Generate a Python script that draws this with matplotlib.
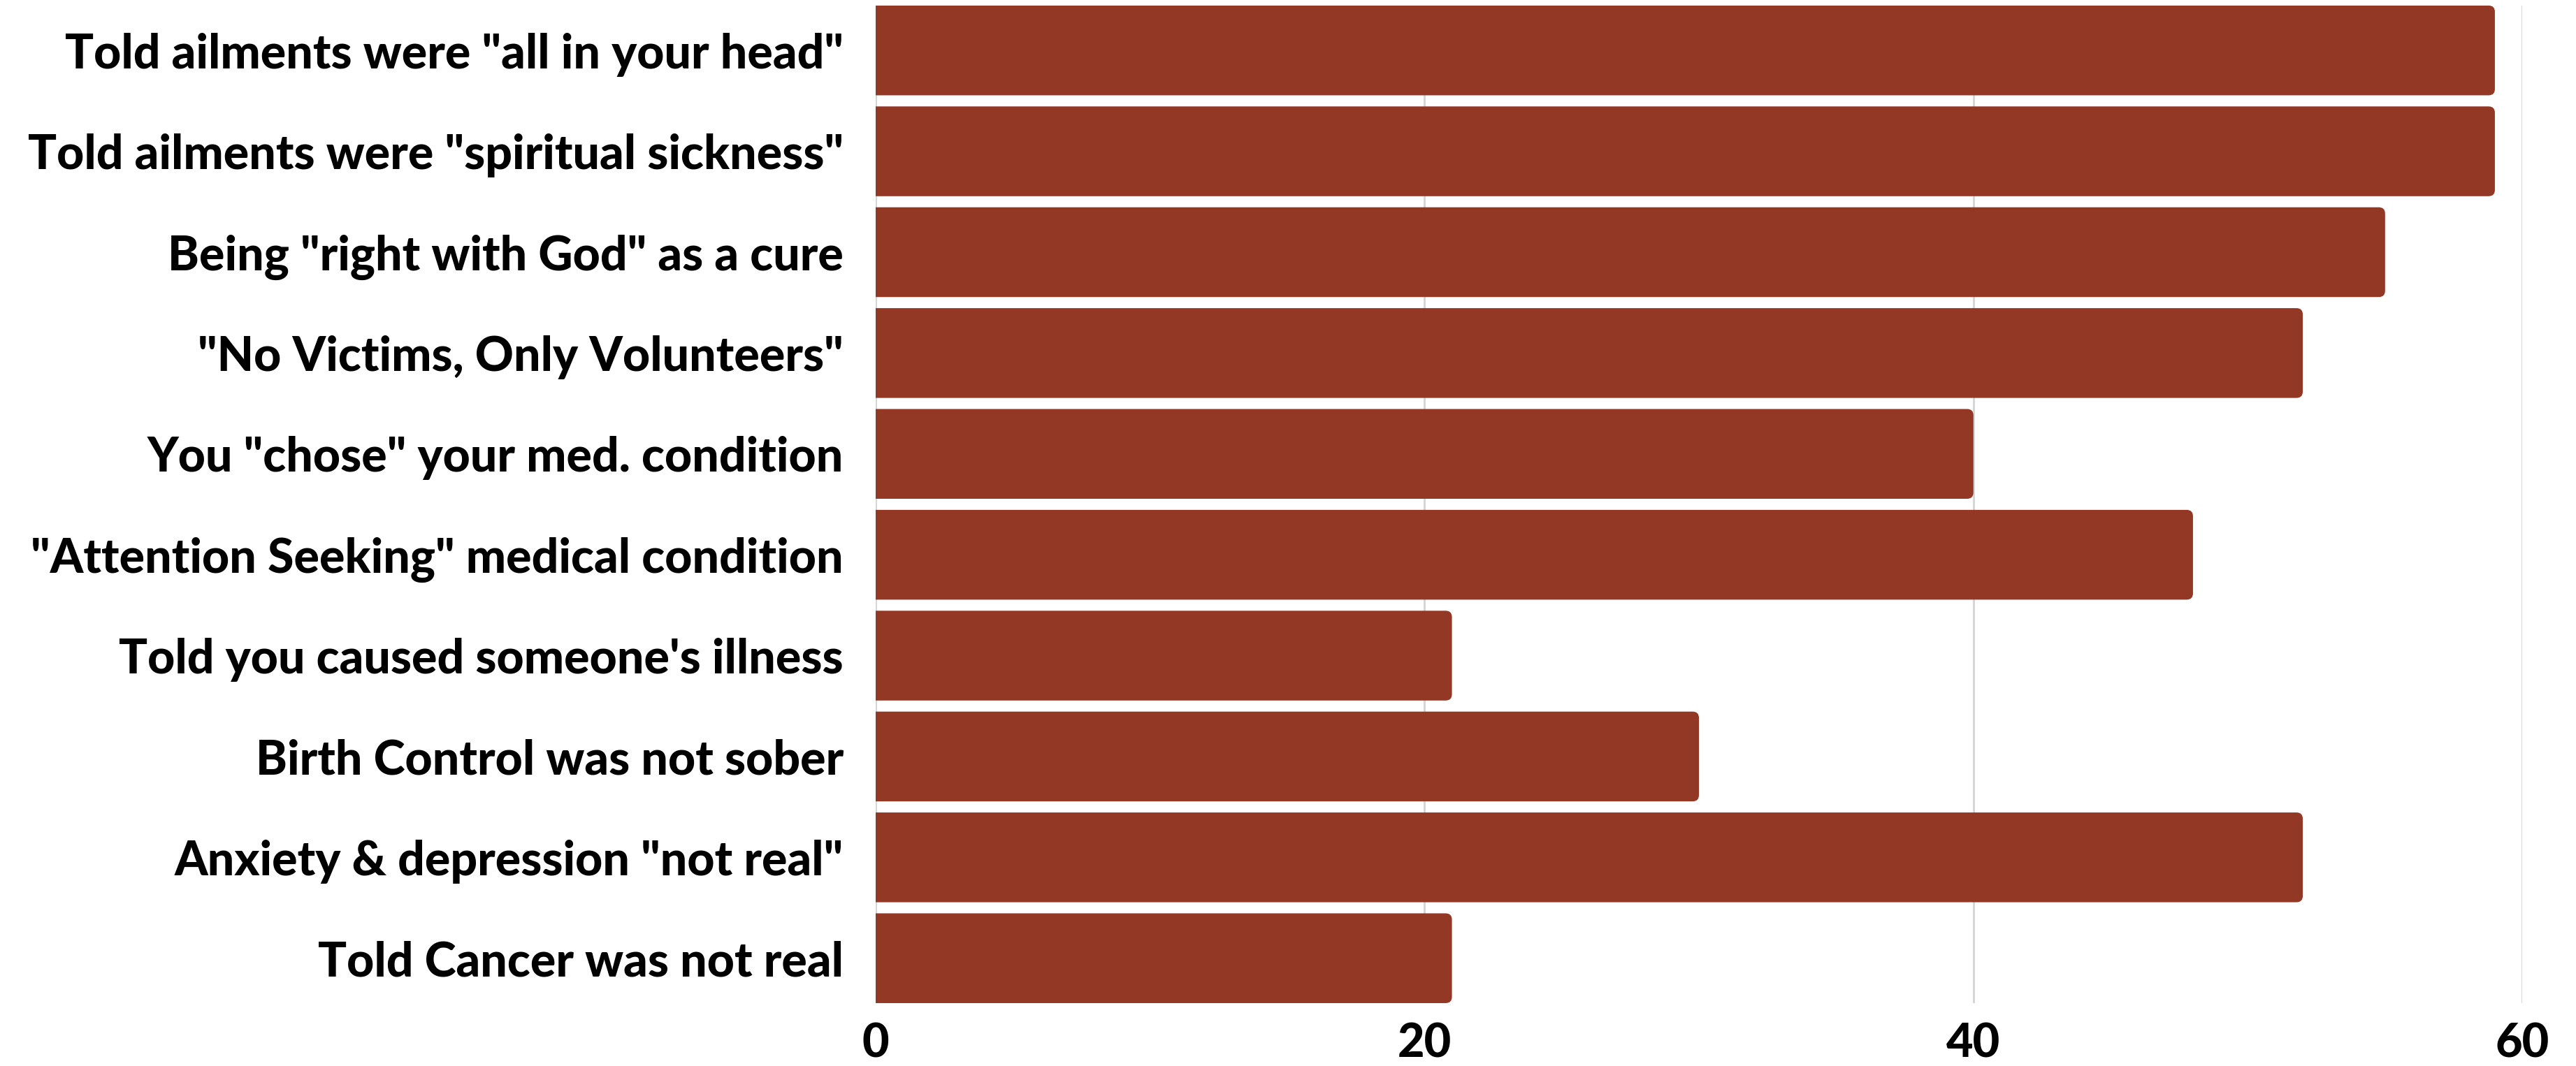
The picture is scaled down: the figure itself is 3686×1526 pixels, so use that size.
import matplotlib
matplotlib.use("Agg")
import matplotlib.pyplot as plt
from matplotlib.patches import FancyBboxPatch

categories = [
    'Told ailments were "all in your head"',
    'Told ailments were "spiritual sickness"',
    'Being "right with God" as a cure',
    '"No Victims, Only Volunteers"',
    'You "chose" your med. condition',
    '"Attention Seeking" medical condition',
    "Told you caused someone's illness",
    'Birth Control was not sober',
    'Anxiety & depression "not real"',
    'Told Cancer was not real',
]
values = [59, 59, 55, 52, 40, 48, 21, 30, 52, 21]
xticks = [0, 20, 40, 60]

BAR_COLOR = "#943826"
FONT = ["Lato", "DejaVu Sans"]

fig = plt.figure(figsize=(36.87, 15.26), dpi=100)
ax = fig.add_axes([0.3398, 0.059, 0.9789 - 0.3398, 0.9948 - 0.059])

ypos = list(range(len(categories)))
bar_h = 0.89
bars = ax.barh(ypos, values, height=bar_h, color=BAR_COLOR, zorder=2)

# rounded right corners
rx = 0.23
ry = 0.062
for b in bars:
    b.set_visible(False)
    x0, y0, w, h = b.get_x(), b.get_y(), b.get_width(), b.get_height()
    p = FancyBboxPatch((x0 - 1.0, y0), w + 1.0, h,
                       boxstyle=f"round,pad=0,rounding_size={rx}",
                       mutation_aspect=ry / rx,
                       facecolor=BAR_COLOR, edgecolor="none", zorder=2)
    ax.add_patch(p)

ax.set_xlim(0, 60)
ax.set_ylim(len(categories) - 1 + bar_h / 2, -bar_h / 2)
ax.set_xticks(xticks)
ax.set_xticklabels([str(t) for t in xticks], fontsize=48, fontweight="black",
                   family=FONT)
ax.set_yticks(ypos)
ax.set_yticklabels(categories, fontsize=49, fontweight="black", family=FONT)
ax.tick_params(axis="x", length=0, pad=20)
ax.tick_params(axis="y", length=0, pad=33)

ax.grid(axis="x", color="#d4d4d4", linewidth=2, zorder=0)
ax.set_axisbelow(True)
for s in ax.spines.values():
    s.set_visible(False)

fig.savefig("out.png", dpi=100, facecolor="white")
